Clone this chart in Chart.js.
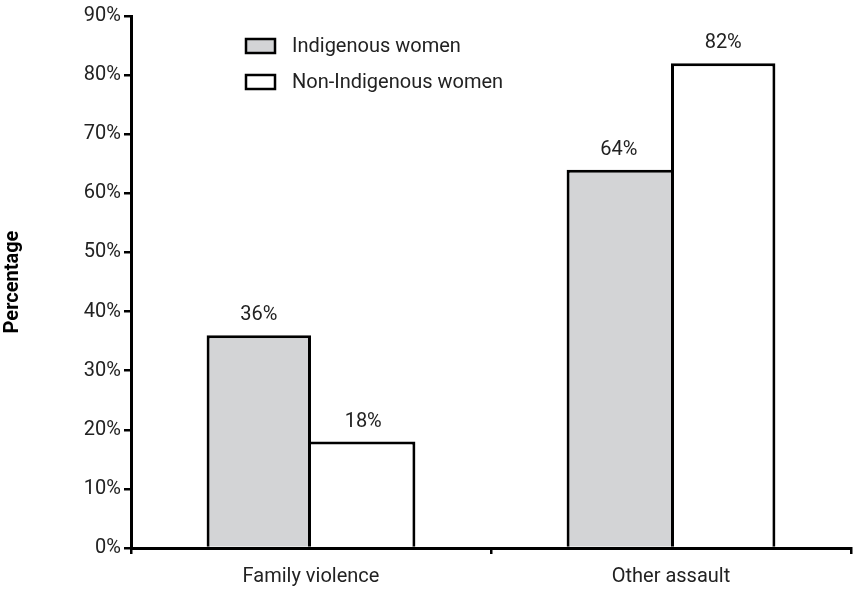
<!DOCTYPE html>
<html>
<head>
<meta charset="utf-8">
<script src="https://cdn.jsdelivr.net/npm/chart.js@4.4.1/dist/chart.umd.min.js"></script>
<style>
  html, body { margin: 0; padding: 0; background: #fff; }
  #wrap { width: 853px; height: 592px; }
</style>
</head>
<body>
<div id="wrap"><canvas id="myChart"></canvas></div>
<script>
var categories = ['Family violence', 'Other assault'];
var seriesNames = ['Indigenous women', 'Non-Indigenous women'];
var indigenousWomen = [36, 64];
var nonIndigenousWomen = [18, 82];
var yTickValues = [0, 10, 20, 30, 40, 50, 60, 70, 80, 90];

var FONT = "Roboto, 'Liberation Sans', sans-serif";
var FONT_SIZE = 20;
var TEXT = '#222222';

// percentage written above every bar
var barValues = {
    id: 'barValues',
    afterDatasetsDraw: function (chart) {
        var ctx = chart.ctx;
        ctx.save();
        ctx.font = FONT_SIZE + 'px ' + FONT;
        ctx.fillStyle = TEXT;
        ctx.textAlign = 'center';
        ctx.textBaseline = 'alphabetic';
        chart.data.datasets.forEach(function (ds, i) {
            chart.getDatasetMeta(i).data.forEach(function (bar, j) {
                ctx.fillText(ds.data[j] + '%', bar.x, bar.y - 15);
            });
        });
        ctx.restore();
    }
};

// two-row legend inside the plot, boxes outlined in black
var boxLegend = {
    id: 'boxLegend',
    afterDraw: function (chart) {
        var ctx = chart.ctx;
        ctx.save();
        ctx.font = FONT_SIZE + 'px ' + FONT;
        ctx.textBaseline = 'middle';
        ctx.textAlign = 'left';
        chart.data.datasets.forEach(function (ds, i) {
            var y = 46 + i * 36;
            ctx.fillStyle = ds.backgroundColor;
            ctx.fillRect(246, y - 7, 29, 14);
            ctx.lineWidth = 2.5;
            ctx.strokeStyle = '#000';
            ctx.strokeRect(246, y - 7, 29, 14);
            ctx.fillStyle = TEXT;
            ctx.fillText(ds.label, 292, y + 1);
        });
        ctx.restore();
    }
};

// the shared edge between the two bars of a group is drawn once,
// by whichever bar is taller
function sharedEdge(mine, other, side) {
    return function (c) {
        var w = { top: 3, right: 3, bottom: 0, left: 3 };
        var i = c.dataIndex;
        w[side] = mine[i] >= other[i] ? 3 : 0;
        return w;
    };
}

var ctx = document.getElementById('myChart').getContext('2d');
var myChart = new Chart(ctx, {
    type: 'bar',
    data: {
        labels: categories,
        datasets: [{
            label: seriesNames[0],
            data: indigenousWomen,
            backgroundColor: '#d3d4d6',
            borderColor: '#000000',
            borderWidth: sharedEdge(indigenousWomen, nonIndigenousWomen, 'right')
        }, {
            label: seriesNames[1],
            data: nonIndigenousWomen,
            backgroundColor: '#ffffff',
            borderColor: '#000000',
            borderWidth: sharedEdge(nonIndigenousWomen, indigenousWomen, 'left')
        }]
    },
    options: {
        responsive: true,
        maintainAspectRatio: false,
        animation: false,
        categoryPercentage: 0.58,
        barPercentage: 1.0,
        layout: { padding: { top: 16, right: 2, left: 0, bottom: 0 } },
        plugins: {
            legend: { display: false },
            tooltip: { enabled: false }
        },
        scales: {
            x: {
                offset: true,
                grid: {
                    offset: true,
                    drawOnChartArea: false,
                    drawTicks: true,
                    tickLength: 6,
                    color: '#000',
                    lineWidth: 2.5
                },
                border: { display: true, color: '#000', width: 3 },
                ticks: {
                    color: TEXT,
                    font: { family: FONT, size: FONT_SIZE },
                    padding: 11
                },
                afterFit: function (scale) { scale.height = 44; }
            },
            y: {
                min: 0,
                max: 90,
                afterBuildTicks: function (scale) {
                    scale.ticks = yTickValues.map(function (v) { return { value: v }; });
                },
                grid: {
                    drawOnChartArea: false,
                    drawTicks: true,
                    tickLength: 7,
                    color: '#000',
                    lineWidth: 2.5
                },
                border: { display: true, color: '#000', width: 3 },
                ticks: {
                    color: TEXT,
                    font: { family: FONT, size: FONT_SIZE },
                    padding: 3,
                    callback: function (v) { return v + '%'; }
                },
                title: {
                    display: true,
                    text: 'Percentage',
                    color: '#000',
                    font: { family: FONT, size: 20, weight: 'bold' },
                    padding: { top: 1, bottom: 0 }
                },
                afterFit: function (scale) { scale.width = 131; }
            }
        }
    },
    plugins: [barValues, boxLegend]
});
</script>
</body>
</html>
